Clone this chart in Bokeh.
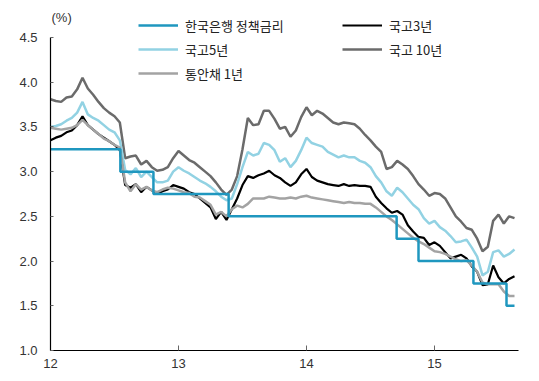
import numpy as np
from bokeh.plotting import figure
from bokeh.models import Range1d, FixedTicker, Legend, LegendItem, Label, NumeralTickFormatter
from bokeh.embed import file_html
from bokeh.resources import INLINE

# observation number (trading days); one reading every 10 trading days
obs = list(range(0, 880, 10))
year_tick_obs = [0, 240, 480, 720]
year_labels = ["12", "13", "14", "15"]
y_ticks = [1.0, 1.5, 2.0, 2.5, 3.0, 3.5, 4.0, 4.5]

ktb10 = [3.81, 3.79, 3.78, 3.83, 3.84, 3.92, 4.05, 3.93, 3.86, 3.78,
         3.71, 3.66, 3.62, 3.55, 3.15, 3.17, 3.18, 3.08, 3.12, 3.05,
         3.01, 3.02, 3.05, 3.15, 3.23, 3.18, 3.13, 3.10, 3.05, 3.00,
         2.95, 2.88, 2.80, 2.74, 2.80, 2.95, 3.25, 3.60, 3.52, 3.53,
         3.68, 3.68, 3.59, 3.48, 3.50, 3.39, 3.46, 3.61, 3.72, 3.63,
         3.68, 3.65, 3.60, 3.55, 3.53, 3.55, 3.54, 3.53, 3.48, 3.41,
         3.35, 3.28, 3.22, 3.03, 3.05, 3.12, 3.08, 3.03, 2.95, 2.86,
         2.80, 2.73, 2.76, 2.75, 2.70, 2.60, 2.50, 2.44, 2.37, 2.35,
         2.25, 2.11, 2.16, 2.45, 2.52, 2.42, 2.50, 2.48]

ktb5 = [3.50, 3.51, 3.53, 3.57, 3.60, 3.66, 3.78, 3.64, 3.60, 3.57,
        3.52, 3.47, 3.44, 3.35, 3.02, 2.97, 3.04, 2.94, 3.00, 2.94,
        2.88, 2.88, 2.90, 3.00, 3.05, 3.01, 2.98, 2.94, 2.90, 2.87,
        2.83, 2.78, 2.72, 2.68, 2.70, 2.86, 3.05, 3.22, 3.18, 3.20,
        3.32, 3.30, 3.24, 3.11, 3.15, 3.05, 3.12, 3.24, 3.38, 3.32,
        3.30, 3.28, 3.22, 3.19, 3.16, 3.18, 3.16, 3.16, 3.12, 3.10,
        3.05, 2.95, 2.88, 2.78, 2.73, 2.82, 2.77, 2.70, 2.63, 2.58,
        2.48, 2.42, 2.45, 2.38, 2.34, 2.28, 2.21, 2.22, 2.24, 2.15,
        2.05, 1.84, 1.88, 2.10, 2.12, 2.05, 2.08, 2.13]

ktb3 = [3.35, 3.38, 3.40, 3.44, 3.46, 3.52, 3.62, 3.52, 3.47, 3.42,
        3.38, 3.34, 3.30, 3.24, 2.85, 2.82, 2.86, 2.77, 2.83, 2.79,
        2.75, 2.78, 2.80, 2.85, 2.83, 2.81, 2.77, 2.75, 2.70, 2.65,
        2.60, 2.47, 2.55, 2.46, 2.58, 2.70, 2.85, 2.95, 2.93, 2.96,
        2.98, 3.01, 2.96, 2.93, 2.88, 2.84, 2.88, 2.97, 3.03, 2.94,
        2.90, 2.88, 2.86, 2.85, 2.84, 2.86, 2.84, 2.85, 2.84, 2.84,
        2.83, 2.72, 2.65, 2.59, 2.54, 2.56, 2.52, 2.40, 2.33, 2.27,
        2.26, 2.18, 2.21, 2.17, 2.10, 2.03, 2.05, 2.07, 2.03, 1.94,
        1.88, 1.73, 1.74, 1.95, 1.82, 1.75, 1.80, 1.83]

msb1 = [3.49, 3.48, 3.47, 3.48, 3.49, 3.52, 3.58, 3.52, 3.47, 3.42,
        3.37, 3.34, 3.30, 3.27, 2.88, 2.78, 2.86, 2.80, 2.83, 2.79,
        2.77, 2.80, 2.82, 2.81, 2.79, 2.77, 2.76, 2.72, 2.71, 2.67,
        2.63, 2.52, 2.55, 2.50, 2.58, 2.62, 2.60, 2.64, 2.70, 2.70,
        2.70, 2.72, 2.71, 2.70, 2.70, 2.71, 2.70, 2.72, 2.73, 2.71,
        2.70, 2.69, 2.68, 2.67, 2.66, 2.65, 2.66, 2.65, 2.65, 2.64,
        2.64, 2.60, 2.55, 2.50, 2.46, 2.41, 2.36, 2.31, 2.26, 2.22,
        2.19, 2.15, 2.11, 2.10, 2.08, 2.05, 2.02, 2.00, 2.01, 1.95,
        1.88, 1.76, 1.74, 1.74, 1.74, 1.66, 1.61, 1.61]

policy_obs = [0, 131, 193, 334, 649, 690, 793, 855, 870]
policy_rate = [3.25, 3.00, 2.75, 2.50, 2.25, 2.00, 1.75, 1.50, 1.50]

names = ["한국은행 정책금리", "국고3년", "국고5년", "국고 10년", "통안채 1년"]

# layout (pixels)
W, H = 531, 373
LEFT, RIGHT, TOP, BOTTOM = 50, 13, 5, 23
frame_h = H - TOP - BOTTOM
px_per_unit = 313 / 3.5          # 1.0 .. 4.5 spans 313 px in the reference
y_top = 1.0 + frame_h / px_per_unit

p = figure(width=W, height=H, output_backend="svg", toolbar_location=None,
           x_range=Range1d(0, 877.5), y_range=Range1d(1.0, y_top),
           min_border_left=LEFT, min_border_right=RIGHT, min_border_top=TOP,
           min_border_bottom=BOTTOM)
p.outline_line_color = None
p.grid.visible = False
p.background_fill_color = "white"
p.border_fill_color = "white"

r10 = p.line(obs, ktb10, line_color="#6B6B6B", line_width=2.5)
r5 = p.line(obs, ktb5, line_color="#92D2E3", line_width=2.5)
r3 = p.line(obs, ktb3, line_color="#000000", line_width=2.2)
r1 = p.line(obs, msb1, line_color="#A3A3A3", line_width=2.5)
rp = p.step(policy_obs, policy_rate, mode="after", line_color="#1F97BF", line_width=2.5)

# axes
p.yaxis.ticker = FixedTicker(ticks=y_ticks)
p.yaxis.formatter = NumeralTickFormatter(format="0.0")
p.yaxis.bounds = (y_ticks[0], y_ticks[-1])
p.xaxis.ticker = FixedTicker(ticks=year_tick_obs)
p.xaxis.major_label_overrides = {t: s for t, s in zip(year_tick_obs, year_labels)}
for ax in (p.xaxis, p.yaxis):
    ax.axis_line_color = "black"
    ax.axis_line_width = 1.2
    ax.major_tick_out = 0
    ax.minor_tick_line_color = None
    ax.major_tick_line_color = "#666666"
    ax.major_label_text_font = "Liberation Sans"
    ax.major_label_text_font_size = "13px"
    ax.major_label_text_color = "#333333"
p.yaxis.major_tick_in = 3
p.xaxis.major_tick_in = 5
p.yaxis.major_label_standoff = 13
p.xaxis.major_label_standoff = 8

legend = Legend(items=[
    LegendItem(label=names[0], renderers=[rp]),
    LegendItem(label=names[1], renderers=[r3]),
    LegendItem(label=names[2], renderers=[r5]),
    LegendItem(label=names[3], renderers=[r10]),
    LegendItem(label=names[4], renderers=[r1]),
], location=(88, 267), orientation="horizontal", ncols=2)
legend.glyph_width = 40
legend.glyph_height = 20
legend.label_standoff = 7
legend.label_width = 153
legend.spacing = 4
legend.padding = 0
legend.margin = 0
legend.border_line_color = None
legend.background_fill_alpha = 0
legend.label_text_font = "Noto Sans CJK KR"
legend.label_text_font_size = "13px"
legend.label_text_color = "#222222"
p.add_layout(legend)

p.add_layout(Label(x=1, y=333, x_units="screen", y_units="screen", text="(%)",
                   text_font="Liberation Sans", text_font_size="13px",
                   text_color="#333333", text_baseline="middle"))

open("out.html", "w").write(file_html(p, INLINE))
